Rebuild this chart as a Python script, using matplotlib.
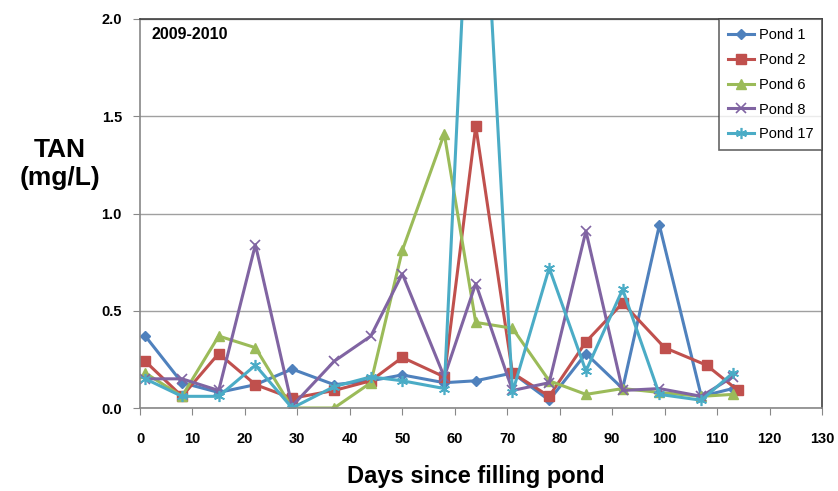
import matplotlib
matplotlib.use("Agg")
import matplotlib.pyplot as plt
from matplotlib.ticker import FormatStrFormatter

plt.rcParams['font.family'] = ['Liberation Sans', 'DejaVu Sans']

# Data
days_p1 = [1, 8, 15, 22, 29, 37, 44, 50, 58, 64, 71, 78, 85, 92, 99, 107, 113]
pond1 = [0.37, 0.13, 0.08, 0.12, 0.20, 0.12, 0.14, 0.17, 0.13, 0.14, 0.18, 0.04, 0.28, 0.10, 0.94, 0.06, 0.10]

days_p2 = [1, 8, 15, 22, 29, 37, 44, 50, 58, 64, 71, 78, 85, 92, 100, 108, 114]
pond2 = [0.24, 0.06, 0.28, 0.12, 0.05, 0.09, 0.14, 0.26, 0.16, 1.45, 0.18, 0.06, 0.34, 0.54, 0.31, 0.22, 0.09]

days_p6 = [1, 8, 15, 22, 29, 37, 44, 50, 58, 64, 71, 78, 85, 92, 99, 107, 113]
pond6 = [0.18, 0.06, 0.37, 0.31, 0.00, 0.00, 0.13, 0.81, 1.41, 0.44, 0.41, 0.14, 0.07, 0.10, 0.08, 0.06, 0.07]

days_p8 = [1, 8, 15, 22, 29, 37, 44, 50, 58, 64, 71, 78, 85, 92, 99, 107, 113]
pond8 = [0.15, 0.15, 0.09, 0.84, 0.01, 0.24, 0.37, 0.69, 0.16, 0.64, 0.09, 0.13, 0.91, 0.09, 0.10, 0.06, 0.16]

days_p17 = [1, 8, 15, 22, 29, 37, 44, 50, 58, 64, 71, 78, 85, 92, 99, 107, 113]
pond17 = [0.15, 0.06, 0.06, 0.22, 0.00, 0.11, 0.16, 0.14, 0.10, 3.50, 0.08, 0.72, 0.19, 0.61, 0.07, 0.04, 0.18]

labels = ["Pond 1", "Pond 2", "Pond 6", "Pond 8", "Pond 17"]
x_ticks = list(range(0, 131, 10))
y_ticks = [0.0, 0.5, 1.0, 1.5, 2.0]

fig = plt.figure(figsize=(8.38, 4.91), dpi=100)
ax = fig.add_axes([140/838, 1-408/491, (822-140)/838, (408-19)/491])

styles = [
    dict(color="#4F81BD", marker="D", ms=5.5),
    dict(color="#C0504D", marker="s", ms=6.5),
    dict(color="#9BBB59", marker="^", ms=7),
    dict(color="#8064A2", marker="x", ms=7, mew=1.2),
    dict(color="#4BACC6", marker=(6, 2, 0), ms=8, mew=1.2),
]
series = [(days_p1, pond1), (days_p2, pond2), (days_p6, pond6), (days_p8, pond8), (days_p17, pond17)]
for (xs, ys), lab, st in zip(series, labels, styles):
    ax.plot(xs, ys, lw=2.2, label=lab, clip_on=True, **st)

ax.set_xlim(0, 130)
ax.set_ylim(0, 2.0)
ax.set_xticks(x_ticks)
ax.set_yticks(y_ticks)
ax.yaxis.set_major_formatter(FormatStrFormatter('%.1f'))
ax.grid(axis='y', color='#A0A0A0', lw=1)
ax.set_axisbelow(True)
for s in ax.spines.values():
    s.set_color('#404040')
    s.set_linewidth(1.2)
ax.spines['left'].set_color('#888888')
ax.spines['bottom'].set_color('#888888')
ax.tick_params(axis='both', direction='out', length=5, color='#888888', labelsize=10.5)
ax.tick_params(axis='x', pad=12)
ax.tick_params(axis='y', pad=8)
for t in ax.get_xticklabels() + ax.get_yticklabels():
    t.set_fontweight('bold')

ax.text(0.017, 0.98, "2009-2010", transform=ax.transAxes, fontsize=11.5, fontweight='bold', va='top', ha='left')

leg = ax.legend(loc='upper right', fontsize=10.5, frameon=True, fancybox=False, edgecolor='#404040',
                handlelength=1.8, borderaxespad=0, labelspacing=0.75, borderpad=0.6, handletextpad=0.3)
leg.get_frame().set_linewidth(1.2)

fig.text(60/838, 1-164/491, "TAN\n(mg/L)", fontsize=19, fontweight='bold', ha='center', va='center', linespacing=1.25)
fig.text(476/838, 1-476/491, "Days since filling pond", fontsize=17, fontweight='bold', ha='center', va='center')

fig.savefig("out.png", dpi=100)
